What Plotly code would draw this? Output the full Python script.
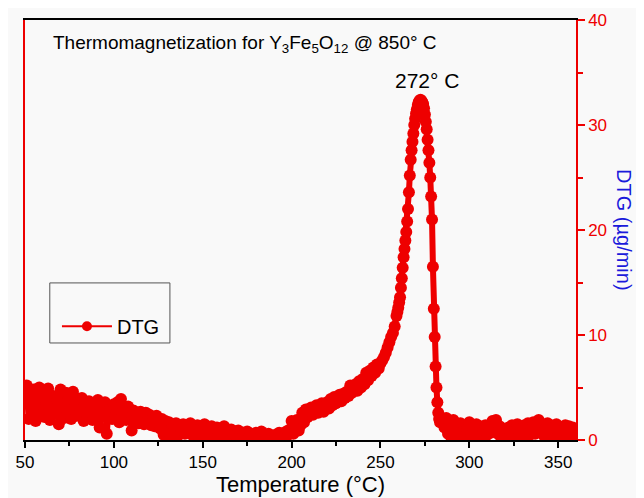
import numpy as np
import plotly.graph_objects as go

# Temperature segments (°C)
temp_low = list(range(50, 260))                      # 50..259, 1 °C steps
temp_peak = [259.5 + 0.5 * i for i in range(50)]     # 259.5..284, 0.5 °C steps
temp_high = list(range(285, 361))                    # 285..360

dtg_low = [
    3.5, 5.2, 2.0, 4.6, 2.8, 4.8, 1.8, 3.9, 5.0, 2.4,
    4.4, 2.2, 3.6, 4.9, 1.9, 3.1, 4.2, 2.5, 3.8, 1.5,
    4.8, 3.0, 2.1, 4.5, 2.7, 4.3, 2.0, 4.6, 3.2, 2.3,
    3.9, 2.6, 4.0, 1.8, 3.4, 2.2, 3.7, 2.9, 1.9, 3.5,
    2.4, 3.8, 1.2, 3.1, 2.6, 3.6, 0.6, 2.9, 3.2, 2.0,
    3.4, 2.3, 3.6, 1.7, 3.9, 2.4, 2.9, 1.9, 3.2, 2.6,
    0.9, 2.8, 1.9, 2.5, 1.6, 2.7, 2.0, 1.5, 2.6, 1.8,
    2.4, 1.4, 2.2, 1.3, 2.3, 1.6, 1.1, 2.0, 0.5, 1.8,
    1.2, 1.7, 0.3, 1.5, 1.1, 1.6, 0.4, 1.4, 1.0, 1.5,
    0.6, 1.3, 1.0, 1.6, 0.5, 1.2, 0.8, 1.4, 0.3, 1.3,
    1.0, 1.5, 0.4, 1.1, 0.8, 1.3, 0.2, 1.0, 1.2, 0.6,
    1.1, 0.4, 1.3, 0.7, 0.9, 0.2, 1.0, 0.6, 0.8, 0.3,
    0.9, 0.5, 0.1, 0.7, 0.4, 0.8, 0.2, 0.6, 0.3, 0.5,
    0.7, 0.2, 0.4, 0.8, 0.1, 0.5, 0.3, 0.6, 0.2, 0.4,
    0.1, 0.5, 0.3, 0.7, 0.2, 0.6, 0.4, 0.8, 0.5, 1.0,
    1.8, 0.6, 1.5, 1.9, 0.9, 1.4, 2.6, 1.7, 2.9, 2.2,
    2.5, 3.1, 2.4, 2.8, 3.3, 2.6, 3.0, 3.5, 2.7, 3.2,
    3.6, 3.0, 3.9, 3.3, 4.1, 3.5, 3.8, 4.3, 3.7, 4.4,
    4.0, 4.6, 4.2, 5.2, 4.5, 4.9, 5.3, 4.7, 5.6, 5.0,
    5.8, 5.3, 6.4, 5.7, 6.6, 6.1, 6.9, 6.4, 7.2, 6.8,
    7.3, 7.6, 7.9, 8.3, 8.8, 9.3, 9.8, 10.2, 10.8, 11.8,
]

dtg_peak = [
    12.2, 12.6, 13.1, 13.6, 14.5, 15.4, 16.4, 17.4, 18.2, 19.0,
    19.8, 20.8, 22.0, 23.6, 25.2, 26.7, 27.6, 28.4, 29.2, 30.0,
    30.6, 31.1, 31.5, 31.9, 32.2, 32.3, 32.4, 32.3, 32.2, 32.0,
    31.6, 31.0, 30.3, 29.6, 28.6, 27.6, 26.4, 25.0, 23.2, 21.0,
    16.5, 12.5, 9.8, 7.0, 5.0, 3.6, 2.6, 2.0, 1.7, 1.8,
]

dtg_high = [
    1.8, 1.2, 2.1, 0.6, 1.5, 0.2, 1.9, 1.0, 1.4, 0.5,
    1.6, 0.9, 1.3, 0.3, 1.2, 1.7, 0.6, 1.1, 0.4, 1.5,
    0.8, 1.3, 0.2, 1.0, 1.4, 0.5, 1.2, 0.7, 1.8, 1.0,
    1.9, 0.6, 1.3, 0.2, 1.1, 0.8, 0.3, 1.2, 0.6, 1.4,
    0.4, 1.0, 1.5, 0.7, 1.2, 0.3, 1.4, 0.9, 1.6, 0.5,
    1.1, 1.7, 0.6, 1.3, 1.9, 0.8, 1.5, 0.4, 1.2, 1.6,
    0.7, 1.4, 0.3, 1.1, 1.5, 0.6, 1.2, 0.2, 1.0, 1.4,
    0.5, 1.3, 0.8, 1.2, 0.4, 1.0,
]

x_ticks = [50, 100, 150, 200, 250, 300, 350]
y_ticks = [0, 10, 20, 30, 40]

temp = temp_low + temp_peak + temp_high
dtg = dtg_low + dtg_peak + dtg_high

RED = "#ee0000"
BG = "#f9f9f9"
FONT = "Liberation Sans, Arial, sans-serif"

fig = go.Figure()
fig.add_trace(go.Scatter(
    x=temp, y=dtg, mode="lines+markers", name="DTG", showlegend=False,
    line=dict(color=RED, width=6),
    marker=dict(color=RED, size=12, line=dict(width=0)),
))
# legend entry with thinner styling
fig.add_trace(go.Scatter(
    x=[None], y=[None], mode="lines+markers", name="DTG",
    line=dict(color=RED, width=2), marker=dict(color=RED, size=10),
))

# the page adds an 8 px body margin, so the figure is 8 px smaller
fig.update_layout(
    width=636, height=490,
    margin=dict(l=17, r=68, t=12, b=58, autoexpand=False),
    paper_bgcolor=BG, plot_bgcolor=BG,
    font=dict(family=FONT, color="black"),
    showlegend=True,
    legend=dict(x=0.058, y=0.271, xanchor="left", yanchor="middle",
                bgcolor="rgba(0,0,0,0)", borderwidth=0,
                font=dict(size=20, family=FONT), itemwidth=50,
                tracegroupgap=0),
    xaxis=dict(
        automargin=False,
        range=[50, 360], tickvals=x_ticks, ticks="outside", ticklen=6,
        tickcolor="black", tickwidth=1.5,
        showline=True, linecolor="black", linewidth=1.5, mirror=True,
        showgrid=False, zeroline=False,
        tickfont=dict(size=17, color="black"),
        minor=dict(dtick=25, tick0=50, ticks="outside", ticklen=4,
                   tickcolor="black", showgrid=False),
        title=dict(text="Temperature (°C)", font=dict(size=22), standoff=4),
    ),
    yaxis=dict(
        automargin=False,
        side="right", range=[0, 40], tickvals=y_ticks, ticks="outside",
        ticklen=7, tickcolor=RED, tickwidth=1.5,
        showline=True, linecolor=RED, linewidth=1.5, mirror=True,
        showgrid=False, zeroline=False,
        tickfont=dict(size=17, color=RED),
        minor=dict(dtick=5, tick0=0, ticks="outside", ticklen=5,
                   tickcolor=RED, showgrid=False),
    ),
)

fig.add_annotation(
    text="DTG (µg/min)", textangle=90, xref="paper", yref="paper",
    x=1.087, y=0.5, xanchor="center", yanchor="middle", showarrow=False,
    font=dict(size=20, color="#1a1adb", family=FONT),
)
fig.add_annotation(
    text="Thermomagnetization for Y<sub>3</sub>Fe<sub>5</sub>O<sub>12</sub> @ 850° C",
    xref="paper", yref="paper", x=0.048, y=0.943, xanchor="left", yanchor="middle",
    showarrow=False, font=dict(size=19, color="black", family=FONT),
)
fig.add_annotation(
    text="272° C", xref="x", yref="paper", x=276, y=0.857,
    xanchor="center", yanchor="middle",
    showarrow=False, font=dict(size=21, color="black", family=FONT),
)
fig.add_shape(
    type="rect", xref="paper", yref="paper",
    x0=0.045, x1=0.263, y0=0.231, y1=0.374,
    line=dict(color="#555555", width=1), fillcolor="rgba(0,0,0,0)",
)

fig.write_html("out.html")
